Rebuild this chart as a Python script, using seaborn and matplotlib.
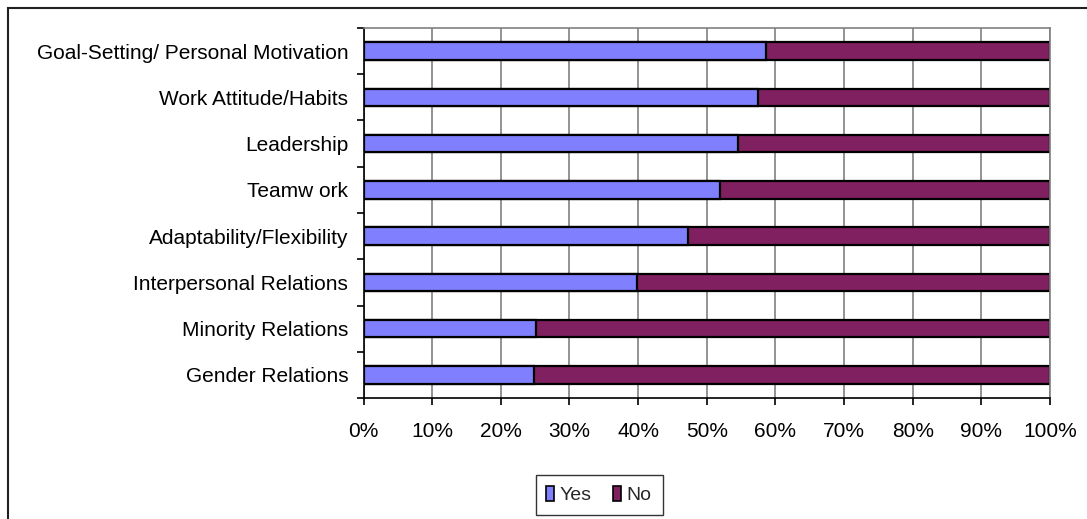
import matplotlib
matplotlib.use("Agg")
import matplotlib.pyplot as plt
import seaborn as sns
import pandas as pd
import numpy as np
from matplotlib.patches import Rectangle, Patch
from matplotlib.ticker import PercentFormatter, FixedLocator

categories = [
    "Goal-Setting/ Personal Motivation",
    "Work Attitude/Habits",
    "Leadership",
    "Teamw ork",
    "Adaptability/Flexibility",
    "Interpersonal Relations",
    "Minority Relations",
    "Gender Relations",
]
yes_pct = [58.6, 57.4, 54.5, 51.9, 47.3, 39.9, 25.1, 24.8]
no_pct = [41.4, 42.6, 45.5, 48.1, 52.7, 60.1, 74.9, 75.2]
series = ["Yes", "No"]
x_ticks = [0, 10, 20, 30, 40, 50, 60, 70, 80, 90, 100]

yes_color = "#8080FF"
no_color = "#802060"

sns.set_theme(style="white")
plt.rcParams["font.family"] = ["Liberation Sans", "DejaVu Sans"]

df = pd.DataFrame({"category": categories, "Yes": yes_pct, "No": no_pct})
df["total"] = df["Yes"] + df["No"]

fig = plt.figure(figsize=(10.87, 5.19), dpi=100)
ax = fig.add_axes([363.5 / 1087, 1 - 398 / 519, (1050 - 363.5) / 1087, (398 - 28) / 519])

bar_w = 0.38
sns.barplot(data=df, y="category", x="total", orient="h", color=no_color,
            saturation=1, width=bar_w, edgecolor="black", linewidth=1.6, ax=ax)
sns.barplot(data=df, y="category", x="Yes", orient="h", color=yes_color,
            saturation=1, width=bar_w, edgecolor="black", linewidth=1.6, ax=ax)

ax.set_xlim(0, 100)
ax.set_ylim(len(categories) - 0.5, -0.5)
ax.xaxis.set_major_locator(FixedLocator(x_ticks))
ax.xaxis.set_major_formatter(PercentFormatter(decimals=0))
ax.set_xlabel("")
ax.set_ylabel("")

ax.grid(axis="x", color="#808080", linewidth=1.2)
ax.set_axisbelow(True)

for side in ["top", "right"]:
    ax.spines[side].set_color("#808080")
    ax.spines[side].set_linewidth(1.2)
for side in ["left", "bottom"]:
    ax.spines[side].set_color("black")
    ax.spines[side].set_linewidth(1.2)

# category labels sit between boundary ticks
ax.yaxis.set_major_locator(FixedLocator(range(len(categories))))
ax.set_yticklabels(categories)
ax.yaxis.set_minor_locator(FixedLocator(np.arange(-0.5, len(categories), 1.0)))
ax.tick_params(axis="y", which="major", length=0, pad=11, labelsize=15, labelcolor="black")
ax.tick_params(axis="y", which="minor", left=True, length=5, width=1.2, color="black")
ax.tick_params(axis="x", which="major", bottom=True, length=5, width=1.2, color="black",
               pad=12, labelsize=15, labelcolor="black")

handles = [Patch(facecolor=yes_color, edgecolor="black", linewidth=1.2),
           Patch(facecolor=no_color, edgecolor="black", linewidth=1.2)]
leg = fig.legend(handles, series, loc="center", bbox_to_anchor=(599 / 1087, 1 - 495 / 519),
                 ncol=2, frameon=True, fancybox=False, fontsize=14,
                 handlelength=0.4, handleheight=0.8, handletextpad=0.3, columnspacing=1.1,
                 borderpad=0.55)
leg.get_frame().set_edgecolor("black")
leg.get_frame().set_linewidth(1.0)

# outer chart frame: top and left edges visible
fig.patches.append(Rectangle((8 / 1087, -0.2), 1.5, 1.2 - 8 / 519,
                             transform=fig.transFigure, fill=False,
                             edgecolor="#202020", linewidth=1.5))

fig.savefig("out.png", dpi=100)
